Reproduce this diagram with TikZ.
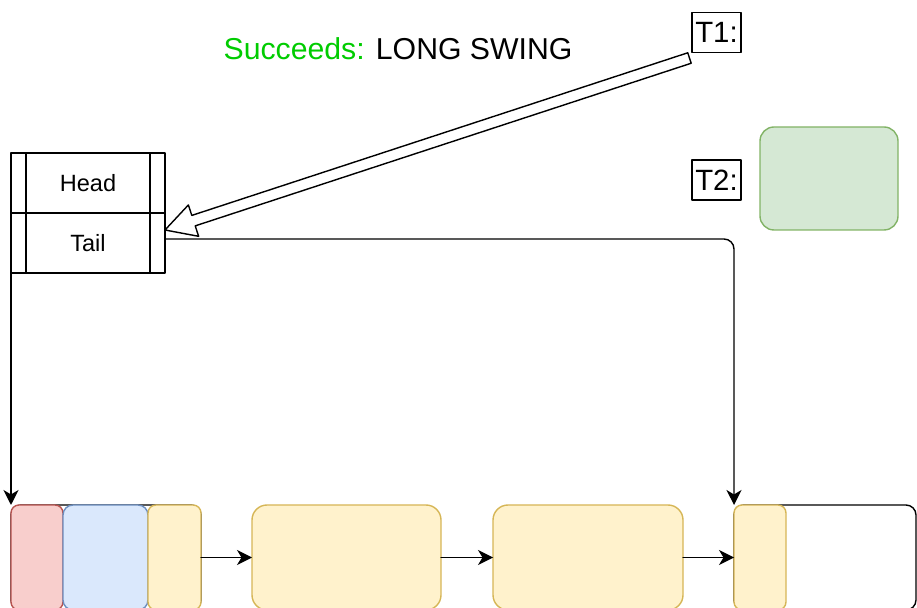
\documentclass[tikz,border=0pt]{standalone}
\usepackage{fontspec}
\setmainfont{Liberation Sans}
\usepackage{tikz}
\usetikzlibrary{arrows.meta,calc,positioning}

\definecolor{okgreen}{HTML}{00CC00}
\definecolor{redfill}{HTML}{F8CECC}\definecolor{redline}{HTML}{B85450}
\definecolor{bluefill}{HTML}{DAE8FC}\definecolor{blueline}{HTML}{6C8EBF}
\definecolor{yelfill}{HTML}{FFF2CC}\definecolor{yelline}{HTML}{D6B656}
\definecolor{grnfill}{HTML}{D5E8D4}\definecolor{grnline}{HTML}{82B366}

\begin{document}
\begin{tikzpicture}[line cap=round, line join=round, >={Stealth[length=0.3cm,width=0.3cm,inset=0.09cm]},
  field/.style={draw, line width=0.8pt, minimum width=3.08cm, minimum height=1.2cm, inner sep=0pt, outer sep=0pt, font=\fontsize{13.4}{16}\selectfont},
  cell/.style={draw=#1line, fill=#1fill, line width=0.8pt, rounded corners=0.16cm, minimum height=2.1cm, inner sep=0pt, outer sep=0pt, anchor=north west},
  ring/.style={draw, fill=white, line width=0.8pt, rounded corners=0.2cm, minimum height=2.1cm, inner sep=0pt, outer sep=0pt, anchor=north west},
  tlabel/.style={draw, line width=0.6pt, minimum width=0.98cm, minimum height=0.8cm, inner sep=0pt, font=\fontsize{16.7}{20}\selectfont},
  link/.style={draw, line width=0.8pt, ->}]
  \useasboundingbox (0,0) rectangle (18.34,12.16);
  \clip (0,0) rectangle (18.34,12.16);

  \node[okgreen, anchor=base, font=\fontsize{17.2}{20}\selectfont] (msg) at (7.96,10.96) {Succeeds: \textcolor{black}{LONG SWING}};

  \node[field, anchor=north west] (head) at (0.22,9.10) {Head};
  \node[field, below=0pt of head] (tail) {Tail};
  \draw[line width=0.8pt] ([xshift=0.3cm]head.north west) -- ([xshift=0.3cm]tail.south west);
  \draw[line width=0.8pt] ([xshift=-0.3cm]head.north east) -- ([xshift=-0.3cm]tail.south east);

  \node[tlabel] (t1) at (14.33,11.51) {T1:};
  \node[tlabel] (t2) at (14.33,8.56) {T2:};
  \node[draw=grnline, fill=grnfill, line width=0.8pt, rounded corners=0.28cm, minimum width=2.76cm, minimum height=2.06cm] (slot) at (16.58,8.59) {};

  \node[ring, minimum width=3.80cm] (ringa) at (0.22,2.06) {};
  \node[ring, minimum width=3.64cm] (ringb) at (14.68,2.06) {};
  \node[cell=red, minimum width=1.04cm] (q0) at (0.22,2.06) {};
  \node[cell=blue, minimum width=1.70cm, rounded corners=0.2cm] (q1) at (1.26,2.06) {};
  \node[cell=yel, minimum width=1.06cm] (q2) at (2.96,2.06) {};
  \node[cell=yel, minimum width=3.78cm, rounded corners=0.3cm] (q3) at (5.04,2.06) {};
  \node[cell=yel, minimum width=3.80cm, rounded corners=0.3cm] (q4) at (9.86,2.06) {};
  \node[cell=yel, minimum width=1.04cm] (q5) at (14.68,2.06) {};

  \draw[link] (q2.east) -- (q3.west);
  \draw[link] (q3.east) -- (q4.west);
  \draw[link] (q4.east) -- (q5.west);
  \draw[link] (tail.south west) -- (ringa.north west);
  \draw[link, rounded corners=0.2cm] ([yshift=0.08cm]tail.east) -| (ringb.north west);

  % hollow arrow T1 -> Tail
  \coordinate (from) at ($(t1.south west)+(-0.04,-0.10)$);
  \coordinate (tip) at ($(tail.east)+(0,0.26)$);
  \coordinate (hb) at ($(tip)!0.6cm!(from)$);
  \draw[line width=0.8pt, fill=white] (tip) -- ($(hb)!0.33cm!90:(from)$) -- ($(hb)!0.11cm!90:(from)$)
    -- ($(from)!0.11cm!-90:(tip)$) -- ($(from)!0.11cm!90:(tip)$)
    -- ($(hb)!0.11cm!-90:(from)$) -- ($(hb)!0.33cm!-90:(from)$) -- cycle;
\end{tikzpicture}
\end{document}
